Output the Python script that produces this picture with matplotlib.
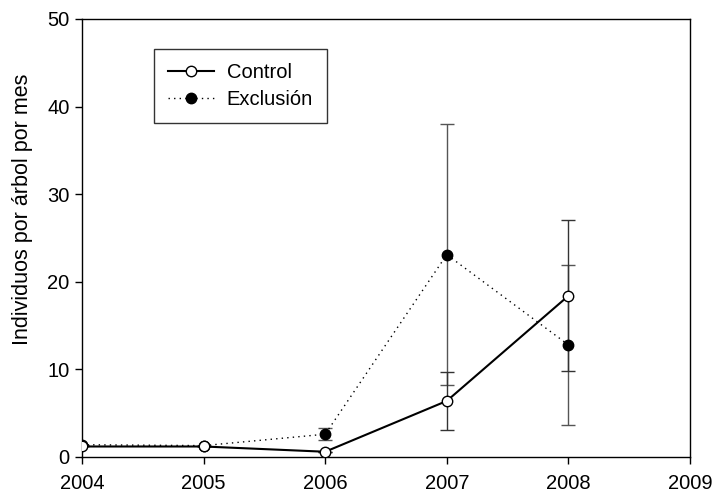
import matplotlib
matplotlib.use("Agg")
import matplotlib.pyplot as plt
import numpy as np

plt.rcParams['font.family'] = ['Liberation Sans', 'DejaVu Sans']

# annual means and error (+/-) per treatment
years = [2004, 2005, 2006, 2007, 2008]
control = [1.2, 1.2, 0.6, 6.4, 18.4]
control_err = [0.0, 0.0, 0.0, 3.3, 8.6]
exclusion = [1.4, 1.3, 2.6, 23.1, 12.8]
exclusion_err = [0.0, 0.0, 0.7, 14.9, 9.1]

xticks = [2004, 2005, 2006, 2007, 2008, 2009]
yticks = [0, 10, 20, 30, 40, 50]

fig = plt.figure(figsize=(7.16, 4.95), dpi=100)
ax = fig.add_axes([82 / 716, 1 - 457 / 495, 608 / 716, 438 / 495])

ax.errorbar(years, exclusion, yerr=exclusion_err, fmt='none',
            ecolor='#555555', elinewidth=1, capsize=4.7, capthick=1, zorder=2)
ax.errorbar(years, control, yerr=control_err, fmt='none',
            ecolor='#333333', elinewidth=1, capsize=4.7, capthick=1, zorder=2)

ax.plot(years, exclusion, linestyle=(0, (1, 3)), color='black', lw=1,
        marker='o', markersize=7.5, markerfacecolor='black',
        markeredgecolor='black', label='Exclusión', zorder=3)
ax.plot(years, control, linestyle='-', color='black', lw=1.5,
        marker='o', markersize=7.5, markerfacecolor='white',
        markeredgecolor='black', markeredgewidth=1, label='Control', zorder=4)

ax.set_xlim(2004, 2009)
ax.set_ylim(0, 50)
ax.set_xticks(xticks)
ax.set_yticks(yticks)
ax.tick_params(direction='out', length=5, width=1, labelsize=14.5)
ax.tick_params(axis='x', pad=7)
ax.tick_params(axis='y', pad=4)
for s in ax.spines.values():
    s.set_linewidth(1)

ax.set_ylabel('Individuos por árbol por mes', fontsize=15.5, labelpad=10, y=0.566)

handles, labels = ax.get_legend_handles_labels()
leg = ax.legend(handles[::-1], labels[::-1], loc='upper left',
                bbox_to_anchor=((154 - 82) / 608, (457 - 49) / 438), fontsize=14.5,
                frameon=True, fancybox=False, edgecolor='black',
                handlelength=2.3, handletextpad=0.6, borderpad=0.7,
                labelspacing=0.4, borderaxespad=0)
leg.get_frame().set_linewidth(1)

fig.savefig('out.png', dpi=100)
